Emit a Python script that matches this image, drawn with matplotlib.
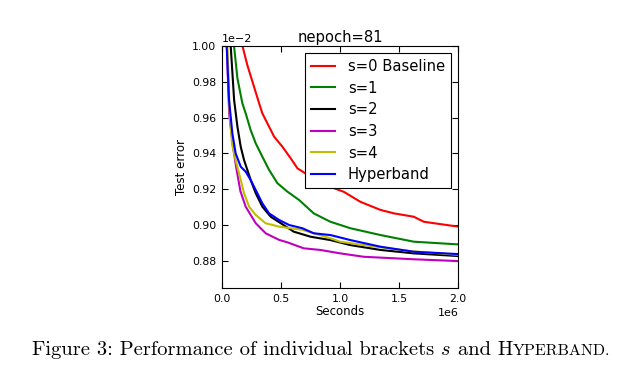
import matplotlib
matplotlib.use("Agg")
import matplotlib.pyplot as plt

# test error (x1e-2) vs wall-clock seconds (x1e6)
x_s0 = [0.172, 0.214, 0.257, 0.314, 0.341, 0.398, 0.441, 0.511, 0.581, 0.638, 0.75, 0.89, 1.031, 1.172, 1.342, 1.455, 1.624, 1.709, 2.0]
y_s0 = [1.0, 0.9892, 0.98, 0.9679, 0.9623, 0.9549, 0.9493, 0.9437, 0.9373, 0.9317, 0.927, 0.922, 0.9186, 0.913, 0.9085, 0.9066, 0.9047, 0.9019, 0.8992]

x_s1 = [0.101, 0.13, 0.172, 0.2, 0.242, 0.285, 0.341, 0.398, 0.469, 0.553, 0.653, 0.776, 0.918, 1.087, 1.342, 1.624, 2.0]
y_s1 = [1.0, 0.9818, 0.9679, 0.9623, 0.953, 0.9456, 0.9382, 0.9308, 0.9234, 0.9187, 0.914, 0.9066, 0.9019, 0.8983, 0.8945, 0.8908, 0.8893]

x_s2 = [0.073, 0.102, 0.13, 0.158, 0.186, 0.214, 0.242, 0.285, 0.341, 0.412, 0.497, 0.607, 0.748, 0.918, 1.087, 1.342, 1.624, 2.0]
y_s2 = [1.0, 0.9697, 0.9549, 0.9437, 0.9363, 0.9308, 0.9252, 0.9178, 0.9103, 0.9047, 0.9011, 0.8964, 0.8936, 0.8917, 0.8889, 0.8862, 0.8843, 0.8828]

x_s3 = [0.04, 0.06, 0.09, 0.12, 0.155, 0.2, 0.285, 0.369, 0.483, 0.551, 0.692, 0.833, 1.0, 1.2, 1.624, 2.0]
y_s3 = [1.0, 0.962, 0.945, 0.932, 0.919, 0.9103, 0.9011, 0.8955, 0.8918, 0.8905, 0.8871, 0.8862, 0.8843, 0.8824, 0.881, 0.88]

x_s4 = [0.045, 0.065, 0.085, 0.115, 0.158, 0.186, 0.229, 0.285, 0.369, 0.483, 0.68, 0.918, 1.0, 1.2, 1.6, 2.0]
y_s4 = [1.0, 0.962, 0.945, 0.9363, 0.9252, 0.9178, 0.9103, 0.9057, 0.9011, 0.8992, 0.8974, 0.8927, 0.8908, 0.8889, 0.8855, 0.8835]

x_hb = [0.039, 0.059, 0.087, 0.115, 0.158, 0.2, 0.242, 0.285, 0.341, 0.398, 0.483, 0.568, 0.68, 0.776, 0.918, 1.087, 1.342, 1.624, 2.0]
y_hb = [1.0, 0.9697, 0.9512, 0.94, 0.9326, 0.9298, 0.9252, 0.9196, 0.9122, 0.9066, 0.9029, 0.9001, 0.8983, 0.8955, 0.8945, 0.8917, 0.888, 0.8852, 0.8839]

series = [
    (x_s0, y_s0, "s=0 Baseline", (1, 0, 0)),
    (x_s1, y_s1, "s=1", (0, 0.5, 0)),
    (x_s2, y_s2, "s=2", (0, 0, 0)),
    (x_s3, y_s3, "s=3", (0.75, 0, 0.75)),
    (x_s4, y_s4, "s=4", (0.75, 0.75, 0)),
    (x_hb, y_hb, "Hyperband", (0, 0, 1)),
]

fig = plt.figure(figsize=(6.4, 3.75), dpi=100)
ax = fig.add_axes([0.347, 0.232, 0.369, 0.646])

for xs, ys, lab, col in series:
    ax.plot([v * 1e6 for v in xs], [v * 1e-2 for v in ys], color=col, lw=1.5, label=lab)

ax.set_xlim(0, 2e6)
ax.set_ylim(0.865e-2, 1.0e-2)
ax.set_xticks([0, 0.5e6, 1.0e6, 1.5e6, 2.0e6])
ax.set_yticks([0.88e-2, 0.90e-2, 0.92e-2, 0.94e-2, 0.96e-2, 0.98e-2, 1.00e-2])
ax.ticklabel_format(axis="y", style="sci", scilimits=(-2, -2))
ax.ticklabel_format(axis="x", style="sci", scilimits=(6, 6))
ax.tick_params(direction="in", top=True, right=True, labelsize=7.8, length=4, pad=4)
ax.yaxis.get_offset_text().set_fontsize(8)
ax.xaxis.get_offset_text().set_fontsize(8)

ax.set_xlabel("Seconds", fontsize=8.5, labelpad=1)
ax.set_ylabel("Test error", fontsize=8.5, labelpad=3)
ax.set_title("nepoch=81", fontsize=10.6, pad=3)

leg = ax.legend(loc="upper right", fontsize=10.6, handlelength=1.6, handletextpad=0.9,
                labelspacing=0.45, fancybox=False, framealpha=1, borderpad=0.4)
leg.get_frame().set_edgecolor("black")
leg.get_frame().set_linewidth(0.8)

# caption: Computer Modern pieces, small caps faked with a smaller size
cap_parts = [
    ("Figure 3: Performance of individual brackets ", "cmr10", 1.0),
    ("s", "cmmi10", 1.0),
    (" and H", "cmr10", 1.0),
    ("YPERBAND.", "cmr10", 0.78),
]
cap_left, cap_right, cap_base = 32, 610, 355


def place_caption(size):
    texts = []
    x = cap_left
    for s, fam, scale in cap_parts:
        t = fig.text(x / 640, 1 - cap_base / 375, s, fontfamily=fam,
                     fontsize=size * scale, va="baseline", ha="left")
        fig.canvas.draw()
        x = t.get_window_extent().x1
        texts.append(t)
    return texts, x


texts, x_end = place_caption(10)
for t in texts:
    t.remove()
size = 10 * (cap_right - cap_left) / (x_end - cap_left)
place_caption(size)

fig.savefig("out.png", dpi=100)
